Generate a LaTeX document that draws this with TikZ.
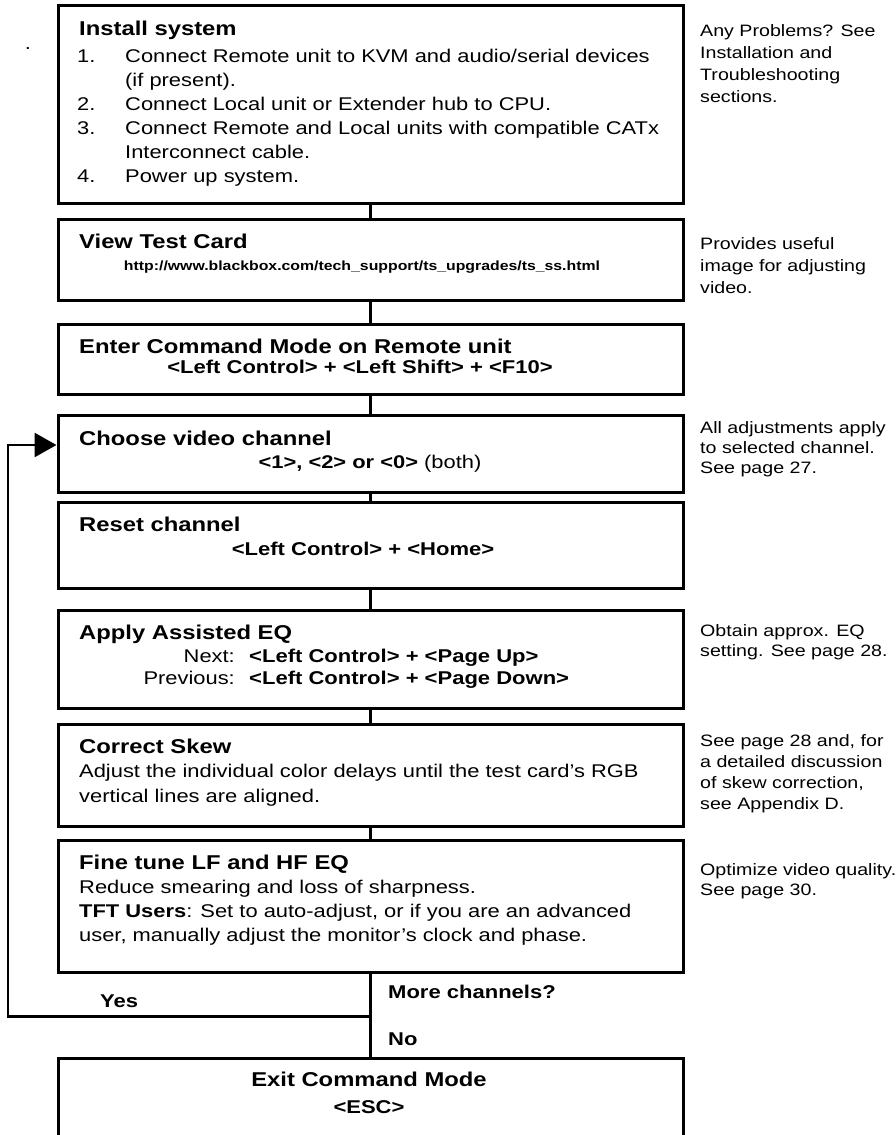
\documentclass[tikz,border=0pt]{standalone}
\usepackage{fontspec}
\setmainfont[FakeStretch=1.19]{Liberation Sans}
\usetikzlibrary{arrows.meta}
\tikzset{
  box/.style={draw, line width=3pt, rectangle, inner sep=0pt, minimum width=625pt, anchor=north west},
  head/.style={anchor=base west, inner sep=0pt, font=\fontsize{20}{24}\selectfont\bfseries},
  body/.style={anchor=base west, inner sep=0pt, font=\fontsize{18.4}{24}\selectfont},
  bodyc/.style={body, anchor=base},
  keys/.style={body, font=\fontsize{18.5}{24}\selectfont\bfseries},
  side/.style={anchor=base west, inner sep=0pt, font=\fontsize{16.5}{21}\selectfont},
  link/.style={line width=2.8pt},
}
\begin{document}
\begin{tikzpicture}[x=1pt,y=-1pt]
\useasboundingbox (0,0) rectangle (896,1135);

% boxes
\node[box, minimum height=198pt] (b1) at (56.5,4) {};
\node[box, minimum height=81pt]  (b2) at (56.5,218) {};
\node[box, minimum height=70pt]  (b3) at (56.5,323) {};
\node[box, minimum height=77pt]  (b4) at (56.5,414) {};
\node[box, minimum height=86pt]  (b5) at (56.5,501) {};
\node[box, minimum height=98pt]  (b6) at (56.5,609) {};
\node[box, minimum height=102pt] (b7) at (56.5,723) {};
\node[box, minimum height=132pt] (b8) at (56.5,839) {};
\node[box, minimum height=82pt]  (b9) at (56.5,1057) {};

\node[body, anchor=base] (dot) at (28,49) {.};

% box 1
\node[head] (h1) at (79,35) {Install system};
\node[body] (n1) at (77,62) {1.};
\node[body] (t1) at (125,62) {Connect Remote unit to KVM and audio/serial devices};
\node[body] (t1b) at (125,86) {(if present).};
\node[body] (n2) at (77,110) {2.};
\node[body] (t2) at (125,110) {Connect Local unit or Extender hub to CPU.};
\node[body] (n3) at (77,134) {3.};
\node[body] (t3) at (125,134) {Connect Remote and Local units with compatible CATx};
\node[body] (t3b) at (125,158) {Interconnect cable.};
\node[body] (n4) at (77,182) {4.};
\node[body] (t4) at (125,182) {Power up system.};
\node[side] (s1a) at (700,36) {Any Problems? See};
\node[side] (s1b) at (700,58) {Installation and};
\node[side] (s1c) at (700,80) {Troubleshooting};
\node[side] (s1d) at (700,102) {sections.};

% box 2
\node[head] (h2) at (79,248) {View Test Card};
\node[anchor=base, inner sep=0pt, font=\fontsize{13.3}{16}\selectfont\bfseries] (url) at (362,270) {http://www.blackbox.com/tech\_support/ts\_upgrades/ts\_ss.html};
\node[side] (s2a) at (700,249) {Provides useful};
\node[side] (s2b) at (700,271) {image for adjusting};
\node[side] (s2c) at (700,293) {video.};

% box 3
\node[head] (h3) at (79,353) {Enter Command Mode on Remote unit};
\node[keys, anchor=base] (k3) at (360,373) {<Left Control> + <Left Shift> + <F10>};

% box 4
\node[head] (h4) at (79,445) {Choose video channel};
\node[bodyc] (k4) at (370,468) {\textbf{<1>, <2> or <0>} (both)};
\node[side] (s4a) at (700,433) {All adjustments apply};
\node[side] (s4b) at (700,453) {to selected channel.};
\node[side] (s4c) at (700,473) {See page 27.};

% box 5
\node[head] (h5) at (79,531) {Reset channel};
\node[keys, anchor=base] (k5) at (363,555.5) {<Left Control> + <Home>};

% box 6
\node[head] (h6) at (79,639) {Apply Assisted EQ};
\node[body, anchor=base east] (l6a) at (235,662) {Next:};
\node[keys] (k6a) at (249,662) {<Left Control> + <Page Up>};
\node[body, anchor=base east] (l6b) at (235,684) {Previous:};
\node[keys] (k6b) at (249,684) {<Left Control> + <Page Down>};
\node[side] (s6a) at (700,636) {Obtain approx. EQ};
\node[side] (s6b) at (700,656) {setting. See page 28.};

% box 7
\node[head] (h7) at (79,753) {Correct Skew};
\node[body] (t7a) at (79,777) {Adjust the individual color delays until the test card’s RGB};
\node[body] (t7b) at (79,802) {vertical lines are aligned.};
\node[side] (s7a) at (700,746) {See page 28 and, for};
\node[side] (s7b) at (700,767) {a detailed discussion};
\node[side] (s7c) at (700,788) {of skew correction,};
\node[side] (s7d) at (700,809) {see Appendix D.};

% box 8
\node[head] (h8) at (79,869) {Fine tune LF and HF EQ};
\node[body] (t8a) at (79,893) {Reduce smearing and loss of sharpness.};
\node[body] (t8b) at (79,917) {\textbf{TFT Users}: Set to auto-adjust, or if you are an advanced};
\node[body] (t8c) at (79,941) {user, manually adjust the monitor’s clock and phase.};
\node[side] (s8a) at (700,875) {Optimize video quality.};
\node[side] (s8b) at (700,895) {See page 30.};

% decision labels
\node[keys] (more) at (388,998) {More channels?};
\node[keys] (yes) at (100,1007) {Yes};
\node[keys] (no) at (388,1045) {No};

% box 9
\node[head, anchor=base] (h9) at (369,1086) {Exit Command Mode};
\node[keys, anchor=base] (k9) at (369,1113) {<ESC>};

% connectors
\draw[link] (b1.south) -- (b2.north);
\draw[link] (b2.south) -- (b3.north);
\draw[link] (b3.south) -- (b4.north);
\draw[link] (b4.south) -- (b5.north);
\draw[link] (b5.south) -- (b6.north);
\draw[link] (b6.south) -- (b7.north);
\draw[link] (b7.south) -- (b8.north);
\draw[link] (b8.south) -- (b9.north);
\coordinate (jn) at (369,1016.5);
\coordinate (lp1) at (8,1016.5);
\coordinate (lp2) at (8,445);
\draw[link, -{Triangle[length=22pt,width=24pt]}] (jn) -- (lp1) -- (lp2) -- (b4.west |- lp2);
\end{tikzpicture}
\end{document}
